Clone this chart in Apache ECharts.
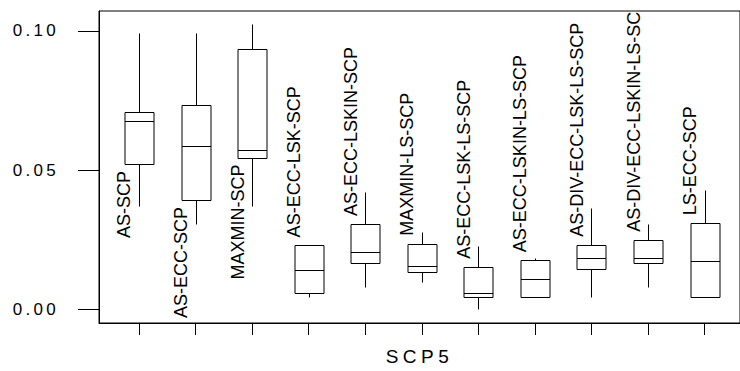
<!DOCTYPE html>
<html><head><meta charset="utf-8">
<script src="https://cdn.jsdelivr.net/npm/echarts@6/dist/echarts.min.js"></script>
<style>
html,body{margin:0;padding:0;background:#fff}
#c{width:740px;height:371px}
#c text[style*="17px"]{letter-spacing:3.3px}
#c text[style*="19px"]{letter-spacing:4.5px}
</style></head><body><div id="c"></div>
<script>
const categories = ['AS-SCP','AS-ECC-SCP','MAXMIN-SCP','AS-ECC-LSK-SCP','AS-ECC-LSKIN-SCP','MAXMIN-LS-SCP','AS-ECC-LSK-LS-SCP','AS-ECC-LSKIN-LS-SCP','AS-DIV-ECC-LSK-LS-SCP','AS-DIV-ECC-LSKIN-LS-SCP','LS-ECC-SCP'];
const whiskerLow  = [0.0370, 0.0307, 0.0372, 0.0044, 0.0079, 0.0100, 0.0000, 0.0044, 0.0044, 0.0079, 0.0044];
const quart1      = [0.0522, 0.0393, 0.0545, 0.0058, 0.0165, 0.0136, 0.0044, 0.0044, 0.0145, 0.0165, 0.0044];
const medians     = [0.0675, 0.0588, 0.0572, 0.0142, 0.0206, 0.0156, 0.0059, 0.0108, 0.0185, 0.0185, 0.0173];
const quart3      = [0.0710, 0.0732, 0.0936, 0.0230, 0.0307, 0.0236, 0.0153, 0.0177, 0.0232, 0.0250, 0.0309];
const whiskerHigh = [0.0992, 0.0992, 0.1024, 0.0232, 0.0422, 0.0277, 0.0227, 0.0186, 0.0363, 0.0307, 0.0427];
const yTicks = [0, 0.05, 0.10];
const xTitle = 'SCP5';

const chart = echarts.init(document.getElementById('c'), null, {renderer:'svg', width:740, height:371});
const data = categories.map((c, i) => [i, whiskerLow[i], quart1[i], medians[i], quart3[i], whiskerHigh[i]]);
const crisp = v => Math.round(v) + 0.5;

chart.setOption({
  animation: false,
  grid: {left: 99, top: 11, right: -5, bottom: 44, show: true, borderColor: '#000', borderWidth: 1, backgroundColor: 'transparent'},
  xAxis: {
    type: 'value', min: -0.707, max: 10.626,
    splitLine: {show: false},
    axisLine: {show: true, onZero: false, lineStyle: {color: '#000', width: 1}},
    axisTick: {show: true, customValues: categories.map((c, i) => i), length: 12, lineStyle: {color: '#000'}},
    axisLabel: {show: false},
    name: xTitle, nameLocation: 'middle', nameGap: 24,
    nameTextStyle: {fontSize: 19, color: '#000', fontFamily: 'Liberation Sans'}
  },
  yAxis: {
    type: 'value', min: -0.00485, max: 0.10709,
    splitLine: {show: false},
    axisLine: {show: true, onZero: false, lineStyle: {color: '#000', width: 1}},
    axisTick: {show: true, customValues: yTicks, length: 21, lineStyle: {color: '#000'}},
    axisLabel: {customValues: yTicks, formatter: v => v.toFixed(2), fontSize: 17, color: '#000',
      fontFamily: 'Liberation Sans', margin: 40, padding: [5, 0, 0, 0]}
  },
  series: [{
    type: 'custom', clip: true, data,
    encode: {x: 0, y: [1, 2, 3, 4, 5]},
    renderItem(params, api) {
      const i = api.value(0);
      const lo = api.coord([i, api.value(1)]);
      const b1 = api.coord([i, api.value(2)]);
      const md = api.coord([i, api.value(3)]);
      const b3 = api.coord([i, api.value(4)]);
      const hi = api.coord([i, api.value(5)]);
      const bw = Math.round(api.size([1, 0])[0] * 0.51);
      const x = crisp(lo[0]);
      const x0 = x - bw / 2, x1 = x + bw / 2;
      const ls = {stroke: '#000', lineWidth: 1};
      const below = api.value(2) > 0.035;
      return {
        type: 'group',
        children: [
          {type: 'line', shape: {x1: x, y1: crisp(hi[1]), x2: x, y2: crisp(b3[1])}, style: ls},
          {type: 'line', shape: {x1: x, y1: crisp(b1[1]), x2: x, y2: crisp(lo[1])}, style: ls},
          {type: 'rect', shape: {x: x0, y: crisp(b3[1]), width: bw, height: crisp(b1[1]) - crisp(b3[1])}, style: {stroke: '#000', lineWidth: 1, fill: '#fff'}},
          {type: 'line', shape: {x1: x0, y1: crisp(md[1]), x2: x1, y2: crisp(md[1])}, style: ls},
          {type: 'text', x: lo[0] - 14.5, y: below ? b1[1] + 7 : b3[1] - 8, rotation: Math.PI / 2,
            style: {text: categories[params.dataIndex], fontSize: 18, fontFamily: 'Liberation Sans', fill: '#000',
              align: below ? 'right' : 'left', verticalAlign: 'middle'}}
        ]
      };
    }
  }]
});
</script></body></html>
